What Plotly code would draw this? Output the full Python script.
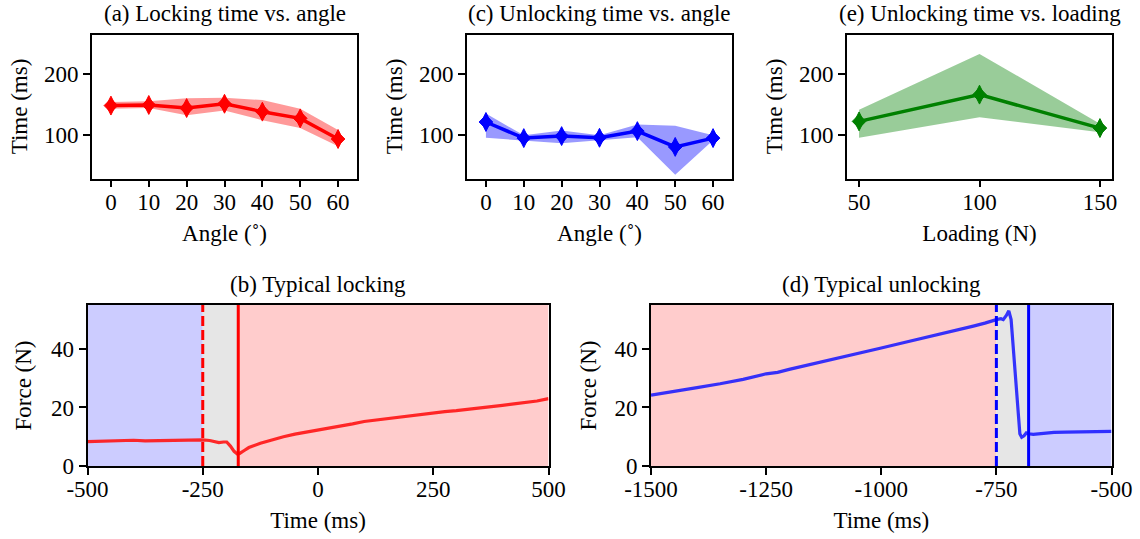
import plotly.graph_objects as go

# ---------------- data ----------------
angles = [0, 10, 20, 30, 40, 50, 60]
lock_mean = [148, 149, 144, 151, 138, 127, 93]
lock_upper = [154, 155, 160, 161, 157, 143, 108]
lock_lower = [143, 144, 132, 140, 124, 111, 81]

unlock_mean = [121, 94.5, 97.8, 95, 106, 80, 94.5]
unlock_upper = [135, 99, 107, 99, 117, 115, 99]
unlock_lower = [95, 91, 86, 91, 96, 34, 91]

loadings = [50, 100, 150]
load_mean = [122, 166, 111]
load_upper = [141, 233, 118]
load_lower = [95, 129, 104]

lock_t = [-500, -475, -450, -425, -400, -375, -350, -325, -300, -275, -250,
          -235, -225, -215, -205, -198, -190, -182, -175, -170, -160, -150,
          -125, -100, -75, -50, -25, 0, 25, 50, 75, 100, 125, 150, 175, 200,
          225, 250, 275, 300, 325, 350, 375, 400, 425, 450, 475, 500]
lock_f = [8.3, 8.4, 8.5, 8.7, 8.8, 8.6, 8.7, 8.7, 8.8, 8.8, 8.9,
          8.7, 8.3, 8.0, 8.2, 8.2, 6.8, 5.0, 4.1, 4.3, 5.3, 6.3,
          7.8, 9.0, 10.0, 10.9, 11.6, 12.2, 12.8, 13.7, 14.4, 15.2, 15.7, 16.3, 16.8, 17.3,
          17.7, 18.2, 18.6, 18.9, 19.3, 19.7, 20.2, 20.7, 21.2, 21.6, 22.2, 23.0]
lock_regions = [-500, -250, -173, 500]   # approach | transition | locked
lock_onset = -250
lock_done = -173

unlock_t = [-1500, -1450, -1400, -1350, -1300, -1250, -1225, -1200, -1150, -1100,
            -1050, -1000, -950, -900, -850, -800, -775, -760, -750, -740, -735,
            -728, -723, -718, -713, -708, -703, -699, -695, -690, -685, -680,
            -670, -650, -625, -600, -575, -550, -525, -500]
unlock_f = [24.2, 25.6, 26.8, 28.1, 29.6, 31.5, 32.0, 33.0, 34.8, 36.5,
            38.4, 40.3, 42.2, 44.0, 45.8, 47.8, 48.8, 49.6, 50.0, 50.3, 50.0,
            51.5, 53.0, 50.0, 40.0, 28.0, 17.0, 11.0, 9.8, 10.3, 11.3, 11.0,
            10.8, 11.2, 11.5, 11.6, 11.7, 11.8, 11.8, 11.8]
unlock_regions = [-1500, -750, -680, -500]
unlock_onset = -750
unlock_done = -680

top_yticks = [100, 200]
lock_xticks = [-500, -250, 0, 250, 500]
unlock_xticks = [-1500, -1250, -1000, -750, -500]
force_yticks = [0, 20, 40]

# ---------------- styling ----------------
W, H = 1140, 539
FONT = "Liberation Serif, Times New Roman, DejaVu Serif, serif"
FS = 23

def px_x(a, b):
    return [a / W, b / W]

def px_y(top, bottom):
    return [1 - bottom / H, 1 - top / H]

fig = go.Figure()

def band_traces(x, lo, hi, mean, color_rgb, xa, ya):
    r, g, b = color_rgb
    col = f"rgb({r},{g},{b})"
    fig.add_trace(go.Scatter(x=x, y=lo, mode="lines", line=dict(width=0),
                             hoverinfo="skip", showlegend=False, xaxis=xa, yaxis=ya))
    fig.add_trace(go.Scatter(x=x, y=hi, mode="lines", line=dict(width=0),
                             fill="tonexty", fillcolor=f"rgba({r},{g},{b},0.4)",
                             hoverinfo="skip", showlegend=False, xaxis=xa, yaxis=ya))
    fig.add_trace(go.Scatter(x=x, y=mean, mode="lines",
                             line=dict(color=col, width=3.5),
                             showlegend=False, xaxis=xa, yaxis=ya))
    # thin diamond marker built from a square diamond and a tall diamond
    fig.add_trace(go.Scatter(x=x, y=mean, mode="markers",
                             marker=dict(symbol="diamond", size=10.5, color=col,
                                         line=dict(width=1, color=col)),
                             showlegend=False, xaxis=xa, yaxis=ya))
    fig.add_trace(go.Scatter(x=x, y=mean, mode="markers",
                             marker=dict(symbol="diamond-tall", size=13.5, color=col,
                                         line=dict(width=1, color=col)),
                             showlegend=False, xaxis=xa, yaxis=ya))

band_traces(angles, lock_lower, lock_upper, lock_mean, (255, 0, 0), "x", "y")
band_traces(angles, unlock_lower, unlock_upper, unlock_mean, (0, 0, 255), "x2", "y2")
band_traces(loadings, load_lower, load_upper, load_mean, (0, 128, 0), "x3", "y3")

fig.add_trace(go.Scatter(x=lock_t, y=lock_f, mode="lines",
                         line=dict(color="rgba(255,20,20,0.9)", width=3.2),
                         showlegend=False, xaxis="x4", yaxis="y4"))
fig.add_trace(go.Scatter(x=unlock_t, y=unlock_f, mode="lines",
                         line=dict(color="rgba(20,20,255,0.85)", width=3.2),
                         showlegend=False, xaxis="x5", yaxis="y5"))

shapes = []
def regions(bounds, colors, xa, ya):
    for i, c in enumerate(colors):
        shapes.append(dict(type="rect", xref=xa, yref=f"{ya} domain",
                           x0=bounds[i], x1=bounds[i + 1], y0=0, y1=1,
                           fillcolor=c, line=dict(width=0), layer="below"))

BLUE_BG = "rgb(204,204,255)"
GRAY_BG = "rgb(230,230,230)"
RED_BG = "rgb(255,204,204)"
regions(lock_regions, [BLUE_BG, GRAY_BG, RED_BG], "x4", "y4")
regions(unlock_regions, [RED_BG, GRAY_BG, BLUE_BG], "x5", "y5")

def vline(xv, color, dash, xa, ya):
    shapes.append(dict(type="line", xref=xa, yref=f"{ya} domain", x0=xv, x1=xv,
                       y0=0, y1=1, line=dict(color=color, width=3, dash=dash),
                       layer="above"))

vline(lock_onset, "rgb(255,0,0)", "10px,4px", "x4", "y4")
vline(lock_done, "rgb(255,0,0)", "solid", "x4", "y4")
vline(unlock_onset, "rgb(0,0,255)", "10px,4px", "x5", "y5")
vline(unlock_done, "rgb(0,0,255)", "solid", "x5", "y5")

axis_common = dict(showline=True, mirror=True, linecolor="black", linewidth=1.6,
                   ticks="outside", ticklen=7, tickwidth=1.5, tickcolor="black",
                   showgrid=False, zeroline=False, automargin=False,
                   tickfont=dict(family=FONT, size=FS, color="black"))
xaxis_common = dict(axis_common, ticklabelstandoff=-5)

def title(text, standoff):
    return dict(text=text, font=dict(family=FONT, size=FS, color="black"), standoff=standoff)

top_y = px_y(34.5, 178.5)
bot_y = px_y(305, 466)

lay = dict(
    width=W, height=H, margin=dict(l=0, r=0, t=0, b=0, autoexpand=False),
    paper_bgcolor="white", plot_bgcolor="white",
    font=dict(family=FONT, size=FS, color="black"),
    showlegend=False,
    shapes=shapes,
)

# top panels
lay["xaxis"] = dict(xaxis_common, domain=px_x(92, 357), range=[-5, 65], tickvals=angles,
                    title=title("Angle (˚)", 11), anchor="y")
lay["yaxis"] = dict(axis_common, domain=top_y, range=[28, 265], tickvals=top_yticks,
                    title=title("Time (ms)", 10), anchor="x")
lay["xaxis2"] = dict(xaxis_common, domain=px_x(467, 732), range=[-5, 65], tickvals=angles,
                     title=title("Angle (˚)", 11), anchor="y2")
lay["yaxis2"] = dict(axis_common, domain=top_y, range=[28, 265], tickvals=top_yticks,
                     title=title("Time (ms)", 10), anchor="x2")
lay["xaxis3"] = dict(xaxis_common, domain=px_x(847, 1112), range=[45, 155], tickvals=loadings,
                     title=title("Loading (N)", 11), anchor="y3")
lay["yaxis3"] = dict(axis_common, domain=top_y, range=[28, 265], tickvals=top_yticks,
                     title=title("Time (ms)", 10), anchor="x3")
# bottom panels
lay["xaxis4"] = dict(xaxis_common, domain=px_x(87.5, 548.5), range=[-500, 500],
                     tickvals=lock_xticks, ticktext=[str(v) for v in lock_xticks],
                     title=title("Time (ms)", 10), anchor="y4")
lay["yaxis4"] = dict(axis_common, domain=bot_y, range=[0, 55], tickvals=force_yticks,
                     title=title("Force (N)", 13), anchor="x4")
lay["xaxis5"] = dict(xaxis_common, domain=px_x(651, 1111.5), range=[-1500, -500],
                     tickvals=unlock_xticks, ticktext=[str(v) for v in unlock_xticks],
                     title=title("Time (ms)", 10), anchor="y5")
lay["yaxis5"] = dict(axis_common, domain=bot_y, range=[0, 55], tickvals=force_yticks,
                     title=title("Force (N)", 12), anchor="x5")

fig.update_layout(**lay)

titles = [("(a) Locking time vs. angle", (92 + 357) / 2, 13.5),
          ("(c) Unlocking time vs. angle", (467 + 732) / 2, 13.5),
          ("(e) Unlocking time vs. loading", (847 + 1112) / 2, 13.5),
          ("(b) Typical locking", (87.5 + 548.5) / 2, 284),
          ("(d) Typical unlocking", (651 + 1111.5) / 2, 284)]
for text, cx, cy in titles:
    fig.add_annotation(text=text, x=cx / W, y=1 - cy / H, xref="paper", yref="paper",
                       xanchor="center", yanchor="middle", showarrow=False,
                       font=dict(family=FONT, size=FS, color="black"))

fig.write_html("out.html")
